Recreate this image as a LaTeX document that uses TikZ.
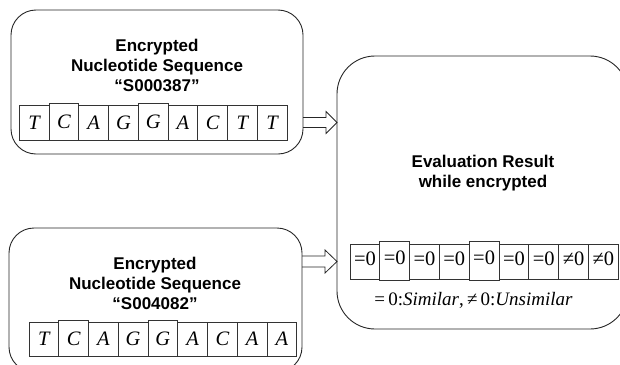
\documentclass[tikz,border=0pt]{standalone}
\usepackage{fontspec}
\setmainfont{Liberation Serif}
\setsansfont{Liberation Sans}
\usetikzlibrary{calc}
\begin{document}
\begin{tikzpicture}[x=1pt,y=-1pt,
  box/.style={draw=black!85, line width=0.9pt, rounded corners=25pt, inner sep=0pt, outer sep=0pt},
  title/.style={font=\sffamily\bfseries\fontsize{17}{20}\selectfont, align=center, inner sep=0pt},
  cell/.style={draw=black!80, line width=0.8pt, minimum width=29.75pt, minimum height=35pt,
    inner sep=0pt, outer sep=0pt, text height=13.5pt, text depth=0pt,
    font=\fontsize{20.5}{20.5}\selectfont\itshape},
  rcell/.style={cell, text height=13.5pt, text depth=5pt, font=\fontsize{20.5}{20.5}\selectfont},
  tall/.style={minimum height=36.5pt, yshift=0.75pt},
  rtall/.style={minimum height=39pt, yshift=1pt},
  fatarrow/.style={draw=black!85, line width=0.8pt},
  note/.style={font=\fontsize{19}{19}\selectfont, inner sep=0pt}
]
\useasboundingbox (0,0) rectangle (620,364);
\clip (0,0) rectangle (620,364);

% boxes
\node[box, minimum width=292pt, minimum height=144pt] (A) at (157,82) {};
\node[box, minimum width=293pt, minimum height=144pt] (B) at (155.5,300) {};
\node[box, rounded corners=38pt, minimum width=291pt, minimum height=273pt] (R) at (482.5,192.5) {};

% titles
\node[title] (tA) at (157,65) {Encrypted\\Nucleotide Sequence\\“S000387”};
\node[title] (tB) at (155,283) {Encrypted\\Nucleotide Sequence\\“S004082”};
\node[title] (tR) at (483,173) {Evaluation Result\\while encrypted};

% cells
\foreach \l/\s [count=\i] in {T/{},C/tall,A/{},G/{},G/tall,A/{},C/{},T/{},T/{}}
  \node[cell,\s] (a\i) at ({19.3+29.75*(\i-0.5)},122.5) {\l};
\foreach \l/\s [count=\i] in {T/{},C/tall,A/{},G/{},G/tall,A/{},C/{},A/{},A/{}}
  \node[cell,minimum height=34pt,\s] (b\i) at ({29+29.75*(\i-0.5)},339) {\l};
\foreach \l/\s [count=\i] in {=0/{},=0/rtall,=0/{},=0/{},=0/rtall,=0/{},=0/{},≠0/{},≠0/{}}
  \node[rcell,\s] (r\i) at ({350+29.8*(\i-0.5)},261.5) {\l};

% note
\node[note] (n) at (473.5,300) {=\,0:\textit{Similar},\,≠\,0:\textit{Unsimilar}};

% arrows
\coordinate (p1) at (A.east |- a9);
\coordinate (q1) at (R.west |- a9);
\draw[fatarrow] ($(p1)+(0,-5)$) -- ($(q1)+(-11,-5)$) -- ($(q1)+(-11,-11)$) -- (q1)
  -- ($(q1)+(-11,11)$) -- ($(q1)+(-11,5)$) -- ($(p1)+(0,5)$);
\coordinate (p2) at (B.east |- r1);
\coordinate (q2) at (R.west |- r1);
\draw[fatarrow] ($(p2)+(0,-5.5)$) -- ($(q2)+(-12,-5.5)$) -- ($(q2)+(-12,-11.5)$) -- (q2)
  -- ($(q2)+(-12,11.5)$) -- ($(q2)+(-12,5.5)$) -- ($(p2)+(0,5.5)$);
\end{tikzpicture}
\end{document}
